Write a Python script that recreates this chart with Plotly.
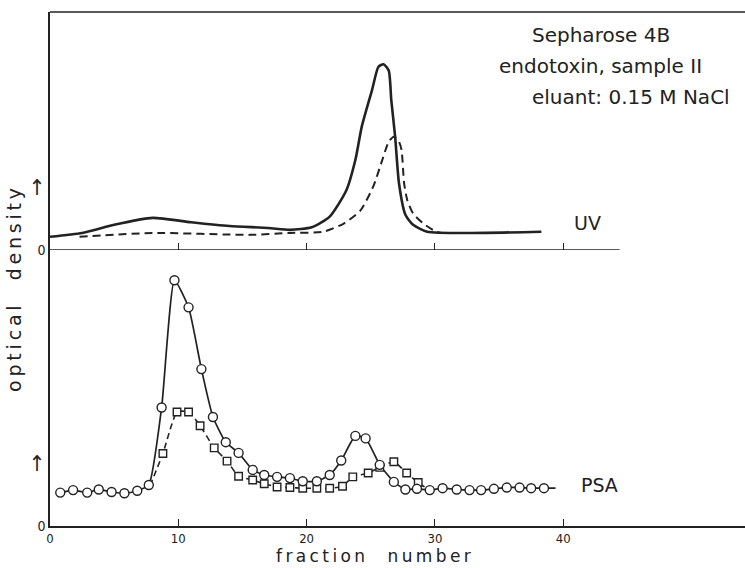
import plotly.graph_objects as go

# ---------------- data ----------------
# Upper panel: UV absorbance
uv_solid_x = [0, 2.5, 5, 8, 11, 14, 17, 18.7, 20.4, 21.8, 23.1, 23.8, 24.3, 25.1, 25.6, 26.0,
              26.4, 26.6, 26.9, 27.2, 27.7, 28.3, 29.4, 32.7, 38.3]
uv_solid_y = [0.21, 0.27, 0.40, 0.51, 0.44, 0.38, 0.35, 0.32, 0.36, 0.53, 0.95, 1.43, 1.96, 2.54, 2.91, 2.95,
              2.85, 2.38, 1.80, 1.06, 0.56, 0.40, 0.29, 0.27, 0.29]

uv_dash_x = [2.3, 8, 15.6, 18.7, 21.3, 22.9, 24.2, 25.2, 25.9, 26.4, 26.8, 27.2, 27.4, 27.6, 27.85,
             28.3, 29.1, 30.1, 30.5]
uv_dash_y = [0.21, 0.27, 0.24, 0.27, 0.29, 0.42, 0.63, 1.01, 1.43, 1.72, 1.80, 1.72, 1.59, 1.06, 0.79,
             0.58, 0.42, 0.29, 0.27]

# Lower panel: PSA, circles (solid line)
psa_circ_x = [0.8, 1.8, 2.9, 3.8, 4.8, 5.8, 6.8, 7.7, 8.7, 9.7, 10.8, 11.8, 12.7, 13.7, 14.7, 15.8,
              16.7, 17.7, 18.7, 19.7, 20.8, 21.8, 22.7, 23.8, 24.6, 25.7, 26.8, 27.7, 28.6, 29.6,
              30.6, 31.7, 32.7, 33.6, 34.6, 35.6, 36.6, 37.5, 38.5]
psa_circ_y = [0.53, 0.57, 0.53, 0.58, 0.54, 0.52, 0.56, 0.65, 1.88, 3.90, 3.47, 2.49, 1.73, 1.33, 1.16, 0.89,
              0.81, 0.78, 0.76, 0.71, 0.71, 0.81, 1.04, 1.43, 1.39, 0.97, 0.70, 0.58, 0.59, 0.57,
              0.60, 0.58, 0.57, 0.57, 0.59, 0.61, 0.61, 0.60, 0.60]
psa_circ_line_end = (39.4, 0.60)

# Lower panel: PSA, squares (dashed line)
psa_sq_x = [8.8, 9.9, 10.8, 11.7, 12.8, 13.8, 14.7, 15.8, 16.7, 17.7, 18.7, 19.7, 20.8, 21.8,
            22.8, 23.6, 24.8, 25.7, 26.8, 27.8, 28.7]
psa_sq_y = [1.15, 1.81, 1.81, 1.59, 1.24, 1.03, 0.79, 0.73, 0.67, 0.62, 0.61, 0.60, 0.60, 0.60,
            0.63, 0.78, 0.84, 0.93, 1.02, 0.84, 0.69]
psa_sq_line_start = (7.8, 0.64)
psa_sq_line_end = (29.5, 0.58)

x_ticks = [0, 10, 20, 30, 40]
y_tickvals = [0, 0.95]
y_ticktext = ["0", '<span style="font-size:22px">↑</span>']

# ---------------- figure ----------------
INK = "#222222"
FONT = "DejaVu Sans"
NARROW = "DejaVu Sans Condensed, Liberation Sans Narrow, DejaVu Sans"

fig = go.Figure()

# upper panel traces (xaxis2 / yaxis2)
fig.add_trace(go.Scatter(x=uv_solid_x, y=uv_solid_y, mode="lines",
                         line=dict(color=INK, width=2.6, shape="spline", smoothing=0.6),
                         xaxis="x2", yaxis="y2", showlegend=False))
fig.add_trace(go.Scatter(x=uv_dash_x, y=uv_dash_y, mode="lines",
                         line=dict(color=INK, width=2.0, dash="8px,5px", shape="spline", smoothing=0.6),
                         xaxis="x2", yaxis="y2", showlegend=False))

# lower panel: dashed squares line
sq_line_x = [psa_sq_line_start[0]] + psa_sq_x + [psa_sq_line_end[0]]
sq_line_y = [psa_sq_line_start[1]] + psa_sq_y + [psa_sq_line_end[1]]
fig.add_trace(go.Scatter(x=sq_line_x, y=sq_line_y, mode="lines",
                         line=dict(color=INK, width=1.6, dash="6px,4px", shape="spline", smoothing=0.5),
                         showlegend=False))
# lower panel: solid circles line
circ_line_x = psa_circ_x + [psa_circ_line_end[0]]
circ_line_y = psa_circ_y + [psa_circ_line_end[1]]
fig.add_trace(go.Scatter(x=circ_line_x, y=circ_line_y, mode="lines",
                         line=dict(color=INK, width=1.7, shape="spline", smoothing=0.5),
                         showlegend=False))
# markers
fig.add_trace(go.Scatter(x=psa_sq_x, y=psa_sq_y, mode="markers",
                         marker=dict(symbol="square", size=7.5, color="white",
                                     line=dict(color=INK, width=1.4)),
                         showlegend=False))
fig.add_trace(go.Scatter(x=psa_circ_x, y=psa_circ_y, mode="markers",
                         marker=dict(symbol="circle", size=9, color="white",
                                     line=dict(color=INK, width=1.4)),
                         showlegend=False))

XMAX = 54.17
common_x = dict(range=[0, XMAX], tickvals=x_ticks, ticks="inside", ticklen=7, tickwidth=1.2,
                tickcolor=INK, showgrid=False, zeroline=False, automargin=False)

fig.update_layout(
    width=745, height=568,
    margin=dict(l=50, r=0, t=12, b=42, autoexpand=False),
    paper_bgcolor="white", plot_bgcolor="rgba(0,0,0,0)",
    font=dict(family=FONT, color=INK, size=14),
    xaxis=dict(**common_x, showline=True, linecolor=INK, linewidth=1.6,
               ticktext=[str(v) for v in x_ticks], tickfont=dict(size=13, family=NARROW),
               anchor="y"),
    yaxis=dict(domain=[0, 0.537], range=[0, 4.38], tickvals=y_tickvals, ticktext=y_ticktext,
               ticks="", showline=True, linecolor=INK, linewidth=1.6, showgrid=False,
               zeroline=False, tickfont=dict(size=14, family=NARROW), anchor="x", automargin=False),
    xaxis2=dict(**common_x, showline=False, showticklabels=False, anchor="y2"),
    yaxis2=dict(domain=[0.537, 1], range=[0, 3.78], tickvals=y_tickvals, ticktext=y_ticktext,
                ticks="", showline=True, linecolor=INK, linewidth=1.6, showgrid=False,
                zeroline=False, tickfont=dict(size=14, family=NARROW), anchor="x2", automargin=False),
    shapes=[
        # upper panel baseline (short)
        dict(type="line", xref="x2", yref="y2", x0=0, x1=44.4, y0=0, y1=0,
             line=dict(color=INK, width=1.6)),
        # top border
        dict(type="line", xref="paper", yref="paper", x0=0, x1=1, y0=1, y1=1,
             line=dict(color=INK, width=1.6)),
    ],
    annotations=[
        dict(text="Sepharose 4B", xref="paper", yref="paper", x=0.691, y=0.955,
             xanchor="left", yanchor="middle", showarrow=False, font=dict(size=20)),
        dict(text="endotoxin, sample II", xref="paper", yref="paper", x=0.643, y=0.895,
             xanchor="left", yanchor="middle", showarrow=False, font=dict(size=20)),
        dict(text="eluant: 0.15 M NaCl", xref="paper", yref="paper", x=0.691, y=0.835,
             xanchor="left", yanchor="middle", showarrow=False, font=dict(size=20)),
        dict(text="UV", xref="paper", yref="paper", x=0.774, y=0.589,
             xanchor="center", yanchor="middle", showarrow=False, font=dict(size=19)),
        dict(text="PSA", xref="paper", yref="paper", x=0.791, y=0.08,
             xanchor="center", yanchor="middle", showarrow=False, font=dict(size=19)),
        dict(text="f\u2009r\u2009a\u2009c\u2009t\u2009i\u2009o\u2009n\u2003 n\u2009u\u2009m\u2009b\u2009e\u2009r",
             xref="paper", yref="paper", x=0.465, y=-0.058,
             xanchor="center", yanchor="middle", showarrow=False, font=dict(size=17)),
        dict(text="o\u2009p\u2009t\u2009i\u2009c\u2009a\u2009l\u2003 d\u2009e\u2009n\u2009s\u2009i\u2009t\u2009y",
             xref="paper", yref="paper", x=-0.052, y=0.459,
             xanchor="center", yanchor="middle", showarrow=False, textangle=-90,
             font=dict(size=19)),
    ],
)

fig.write_html("out.html", config={"displayModeBar": False},
               post_script="document.body.style.margin='0';document.body.style.overflow='hidden';")
